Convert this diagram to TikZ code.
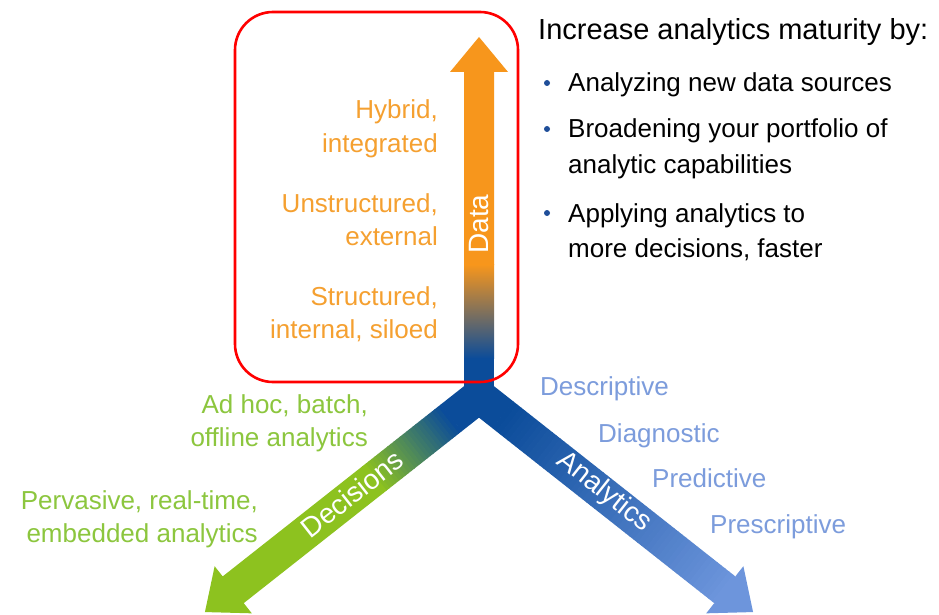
\documentclass[tikz,border=0pt]{standalone}
\usepackage{fontspec}
\setmainfont{Liberation Sans}
\definecolor{dorange}{HTML}{F7961C}
\definecolor{torange}{HTML}{F5A030}
\definecolor{dblue}{HTML}{0B4C9A}
\definecolor{lgreen}{HTML}{8DC21F}
\definecolor{tgreen}{HTML}{8CC63E}
\definecolor{lblue}{HTML}{6D95DC}
\definecolor{tblue}{HTML}{7C9CDC}
\definecolor{bulletblue}{HTML}{1F4E99}
\begin{document}
\begin{tikzpicture}[x=1pt,y=-1pt,
  txt/.style={font=\fontsize{26}{33}\selectfont, inner sep=0pt},
  otext/.style={txt, text=torange, anchor=base east},
  gtext/.style={txt, text=tgreen, anchor=base east},
  btext/.style={txt, text=tblue, anchor=base west},
  ktext/.style={txt, text=black, anchor=base west},
  axlabel/.style={font=\fontsize{28}{30}\selectfont, text=white, inner sep=0pt},
  bulletdot/.style={circle, fill=bulletblue, inner sep=0pt, minimum size=6pt}]
\fill[white] (0,0) rectangle (939,615);
\useasboundingbox (0,0) rectangle (939,615);

% ---- Data arrow (up)
\fill[dorange] (464,265) -- (464,72) -- (450,72) -- (479,37) -- (508,72) -- (494,72) -- (494,265) -- cycle;
\shade[top color=dorange, bottom color=dblue] (464,264.5) rectangle (494,358.5);
\fill[dblue] (464,358) rectangle (494,400);

% ---- Decisions arrow (down-left)
\begin{scope}[shift={(479,396)}, rotate=218.25]
  \fill[dblue] (0,-17) rectangle (35.5,17);
  \foreach \i in {0,...,24}{
    \pgfmathsetmacro\ta{35+4*\i}
    \pgfmathsetmacro\tb{35+4*\i+4.6}
    \pgfmathtruncatemacro\p{100*\i/24}
    \fill[lgreen!\p!dblue] (\ta,-17) rectangle (\tb,17);
  }
  \fill[lgreen] (134.5,-17) -- (313,-17) -- (313,-30) -- (349,0) -- (313,30) -- (313,17) -- (134.5,17) -- cycle;
\end{scope}

% ---- Analytics arrow (down-right)
\begin{scope}[shift={(479,396)}, rotate=-38.25]
  \fill[dblue] (0,-17) rectangle (30.5,17);
  \foreach \i in {0,...,56}{
    \pgfmathsetmacro\ta{30+5*\i}
    \pgfmathsetmacro\tb{30+5*\i+5.6}
    \pgfmathtruncatemacro\p{100*\i/56}
    \fill[lblue!\p!dblue] (\ta,-17) rectangle (\tb,17);
  }
  \fill[lblue] (314.5,-17) -- (313,-17) -- (313,-30) -- (349,0) -- (313,30) -- (313,17) -- (314.5,17) -- cycle;
\end{scope}

% ---- axis labels
\node[axlabel, rotate=90] (datalbl) at (479,224) {Data};
\node[axlabel, rotate=38.25] (declbl) at (352,494) {Decisions};
\node[axlabel, rotate=-38.25] (anlbl) at (604,492) {Analytics};

% ---- red highlight box
\draw[red, line width=2.6pt, rounded corners=38pt] (235,12) rectangle (518,382);

% ---- Data levels
\node[otext] (o1a) at (438,119) {Hybrid,};
\node[otext] (o1b) at (438,152) {integrated};
\node[otext] (o2a) at (438,212) {Unstructured,};
\node[otext] (o2b) at (438,245) {external};
\node[otext] (o3a) at (438,305) {Structured,};
\node[otext] (o3b) at (438,338) {internal, siloed};

% ---- Decision levels
\node[gtext] (g1a) at (368,413) {Ad hoc, batch,};
\node[gtext] (g1b) at (368,446) {offline analytics};
\node[gtext] (g2a) at (258,509) {Pervasive, real-time,};
\node[gtext] (g2b) at (258,542) {embedded analytics};

% ---- Analytics levels
\node[btext] (b1) at (540,395) {Descriptive};
\node[btext] (b2) at (598,442) {Diagnostic};
\node[btext] (b3) at (652,487) {Predictive};
\node[btext] (b4) at (710,533) {Prescriptive};

% ---- Right-hand text
\node[ktext, font=\fontsize{29}{33}\selectfont] (title) at (538,40) {Increase analytics maturity by:};
\node[bulletdot] (d1) at (547,83) {};
\node[ktext] (k1) at (568,92) {Analyzing new data sources};
\node[bulletdot] (d2) at (547,129) {};
\node[ktext] (k2a) at (568,138) {Broadening your portfolio of};
\node[ktext] (k2b) at (568,173) {analytic capabilities};
\node[bulletdot] (d3) at (547,213) {};
\node[ktext] (k3a) at (568,222) {Applying analytics to};
\node[ktext] (k3b) at (568,257) {more decisions, faster};
\end{tikzpicture}
\end{document}
